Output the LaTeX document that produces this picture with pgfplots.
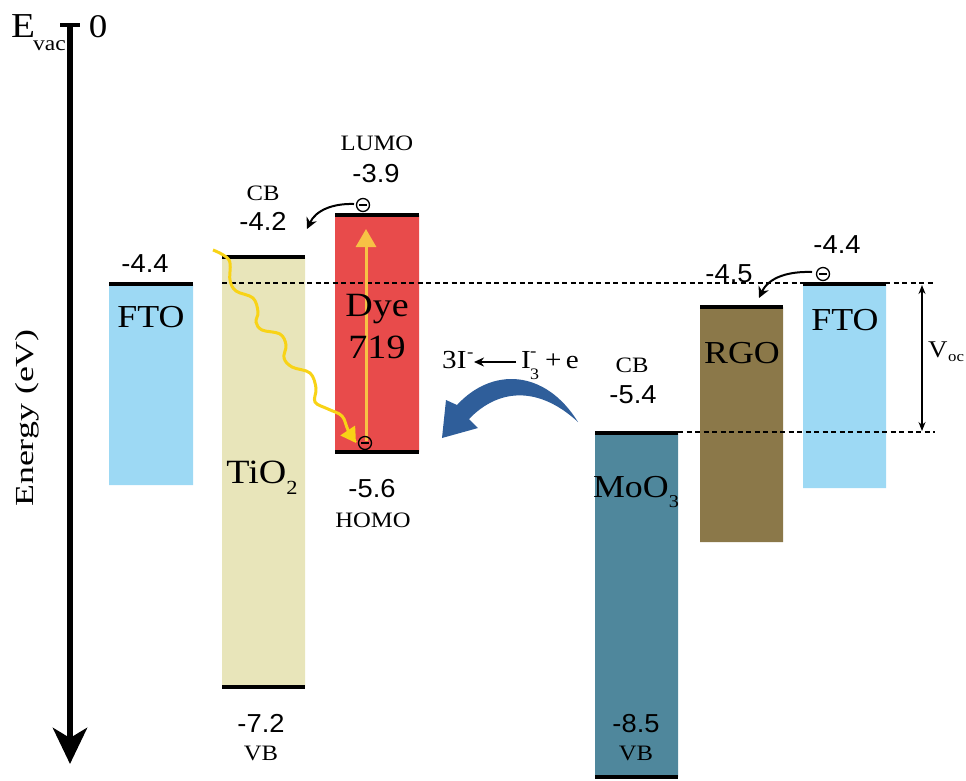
\documentclass[border=0pt]{standalone}
\usepackage{fontspec}
\setmainfont{Liberation Serif}[FakeStretch=1.12]
\newfontfamily\numfont{Liberation Sans}[FakeStretch=1.05]
\newfontfamily\enfont{Liberation Serif}[FakeStretch=1.38]
\usepackage{pgfplots}
\pgfplotsset{compat=1.18}
\usetikzlibrary{arrows.meta}
\definecolor{ftoblue}{HTML}{9DD9F4}
\definecolor{tiobeige}{HTML}{E8E5BA}
\definecolor{dyered}{HTML}{E84B4B}
\definecolor{mooteal}{HTML}{4F879C}
\definecolor{rgobrown}{HTML}{8B7849}
\definecolor{arrowyellow}{HTML}{F7C245}
\definecolor{wavyellow}{HTML}{F8D316}
\definecolor{bluearrow}{HTML}{2F5E9A}
\newcommand\fs[1]{\fontsize{#1pt}{#1pt}\selectfont}
\newcommand\elec[2]{%
  \draw[line width=1.3pt] (axis cs:#1,#2) circle[radius=6.5pt];
  \draw[line width=1.6pt] (axis cs:#1-4,#2) -- (axis cs:#1+4,#2);}
\begin{document}
\begin{tikzpicture}
\begin{axis}[width=966pt,height=780pt,scale only axis,
  xmin=0,xmax=966,ymin=0,ymax=780,y dir=reverse,hide axis,clip=false]
% ---- boxes (x from .. to, y top .. bottom, pixel units)
% FTO left
\addplot[fill=ftoblue,draw=none] coordinates {(109,284) (193,284) (193,485) (109,485) (109,284)};
% TiO2
\addplot[fill=tiobeige,draw=none] coordinates {(222,257) (305,257) (305,687) (222,687) (222,257)};
% Dye 719
\addplot[fill=dyered,draw=none] coordinates {(335,215) (419,215) (419,452) (335,452) (335,215)};
% MoO3
\addplot[fill=mooteal,draw=none] coordinates {(595,433) (678,433) (678,777) (595,777) (595,433)};
% RGO
\addplot[fill=rgobrown,draw=none] coordinates {(700,307) (783,307) (783,542) (700,542) (700,307)};
% FTO right
\addplot[fill=ftoblue,draw=none] coordinates {(803,284) (886,284) (886,488) (803,488) (803,284)};
% ---- dashed reference lines
\addplot[black,line width=1.3pt,dash pattern=on 5pt off 3.5pt] coordinates {(222,283) (935,283)};
\addplot[black,line width=1.3pt,dash pattern=on 5pt off 3.5pt] coordinates {(678,432) (935,432)};
% ---- energy levels
\addplot[black,line width=4pt] coordinates {(109,284) (193,284)};
\addplot[black,line width=4pt] coordinates {(222,257) (305,257)};
\addplot[black,line width=4pt] coordinates {(222,687) (305,687)};
\addplot[black,line width=4pt] coordinates {(335,215) (419,215)};
\addplot[black,line width=4pt] coordinates {(335,452) (419,452)};
\addplot[black,line width=4pt] coordinates {(595,433) (678,433)};
\addplot[black,line width=4pt] coordinates {(595,777) (678,777)};
\addplot[black,line width=4pt] coordinates {(700,307) (783,307)};
\addplot[black,line width=4pt] coordinates {(803,284) (886,284)};
% ---- energy axis
\addplot[black,line width=6.5pt,-{Stealth[length=36pt,width=34pt,inset=10pt]}] coordinates {(70,23) (70,764)};
\addplot[black,line width=4pt] coordinates {(60,25) (80,25)};
\node[anchor=base west,inner sep=0] at (axis cs:11,37) {\fs{35}E};
\node[anchor=base west,inner sep=0] at (axis cs:33,50) {\fs{21}vac};
\node[anchor=base,inner sep=0] at (axis cs:98,37) {\fs{33}0};
\node[anchor=base,inner sep=0,rotate=90] at (axis cs:33,418) {\enfont\fs{26}Energy (eV)};
% ---- yellow arrows
\addplot[wavyellow,line width=3pt,smooth,tension=0.6,-{Triangle[length=15pt,width=17pt]}] coordinates {
 (213,250) (229,260) (230,280) (236,291) (253,298) (258,312) (256,322) (262,330)
 (280,334) (286,345) (284,358) (292,367) (310,373) (316,388) (315,402) (328,409)
 (342,416) (348,430) (356,443)};
\addplot[arrowyellow,line width=3pt,-{Triangle[length=18pt,width=20pt]}] coordinates {(366,441) (366,229)};
% ---- electrons and transfer arrows
\elec{363}{205}
\elec{365}{443}
\elec{823}{274}
\draw[line width=2pt,-{Stealth[length=11pt,width=11pt]}] (axis cs:354,204) to[out=178,in=65] (axis cs:307,229);
\draw[line width=2pt,-{Stealth[length=11pt,width=11pt]}] (axis cs:812,272) to[out=178,in=65] (axis cs:759,298);
% ---- blue regeneration arrow
\fill[bluearrow] (axis cs:578,422) .. controls (axis cs:545,369) and (axis cs:492,367) .. (axis cs:457,405)
  -- (axis cs:446,400) -- (axis cs:442,438) -- (axis cs:478,428) -- (axis cs:469,419)
  .. controls (axis cs:500,387) and (axis cs:540,387) .. cycle;
% ---- Voc
\draw[line width=1.3pt,{Stealth[length=9pt,width=7pt]}-{Stealth[length=9pt,width=7pt]}] (axis cs:922,285) -- (axis cs:922,431);
\node[anchor=base west,inner sep=0] at (axis cs:928,357) {\fs{24}V};
\node[anchor=base west,inner sep=0] at (axis cs:948,361) {\fs{15}oc};
% ---- electrolyte reaction
\node[anchor=base west,inner sep=0] at (axis cs:442,368) {\fs{26}3I};
\node[anchor=base west,inner sep=0] at (axis cs:467,357) {\fs{17}-};
\draw[line width=1.6pt,-{Stealth[length=10pt,width=9pt]}] (axis cs:516,362) -- (axis cs:474,362);
\node[anchor=base west,inner sep=0] at (axis cs:521,368) {\fs{26}I};
\node[anchor=base west,inner sep=0] at (axis cs:530,379) {\fs{16}3};
\node[anchor=base west,inner sep=0] at (axis cs:530,356) {\fs{17}-};
\node[anchor=base west,inner sep=0] at (axis cs:545,368) {\fs{26}+\,e};
% ---- box labels
\node[anchor=base,inner sep=0] at (axis cs:151,327) {\fs{32}FTO};
\node[anchor=base,inner sep=0] at (axis cs:845,330) {\fs{32}FTO};
\node[anchor=base,inner sep=0] at (axis cs:742,363) {\fs{32}RGO};
\node[anchor=base,inner sep=0] at (axis cs:377,316) {\fs{34}Dye};
\node[anchor=base,inner sep=0] at (axis cs:377,358) {\fs{34}719};
\node[anchor=base,inner sep=0] at (axis cs:262,483) {\fs{34}TiO\raisebox{-11pt}{\fs{20}2}};
\node[anchor=base,inner sep=0] at (axis cs:636,497) {\fs{32}MoO\raisebox{-10pt}{\fs{18}3}};
% ---- level values
\node[anchor=base,inner sep=0] at (axis cs:145,272) {\numfont\fs{26}-4.4};
\node[anchor=base,inner sep=0] at (axis cs:837,253) {\numfont\fs{26}-4.4};
\node[anchor=base,inner sep=0] at (axis cs:729,282) {\numfont\fs{26}-4.5};
\node[anchor=base,inner sep=0] at (axis cs:263,230) {\numfont\fs{26}-4.2};
\node[anchor=base,inner sep=0] at (axis cs:263,200) {\fs{22}CB};
\node[anchor=base,inner sep=0] at (axis cs:376,182) {\numfont\fs{26}-3.9};
\node[anchor=base,inner sep=0] at (axis cs:377,150) {\fs{22}LUMO};
\node[anchor=base,inner sep=0] at (axis cs:372,497) {\numfont\fs{26}-5.6};
\node[anchor=base,inner sep=0] at (axis cs:373,527) {\fs{22}HOMO};
\node[anchor=base,inner sep=0] at (axis cs:261,732) {\numfont\fs{26}-7.2};
\node[anchor=base,inner sep=0] at (axis cs:261,760) {\fs{22}VB};
\node[anchor=base,inner sep=0] at (axis cs:633,403) {\numfont\fs{26}-5.4};
\node[anchor=base,inner sep=0] at (axis cs:632,372) {\fs{22}CB};
\node[anchor=base,inner sep=0] at (axis cs:636,732) {\numfont\fs{26}-8.5};
\node[anchor=base,inner sep=0] at (axis cs:636,760) {\fs{22}VB};
\end{axis}
\pgfresetboundingbox
\path[use as bounding box] (current axis.south west) rectangle (current axis.north east);
\end{tikzpicture}
\end{document}
